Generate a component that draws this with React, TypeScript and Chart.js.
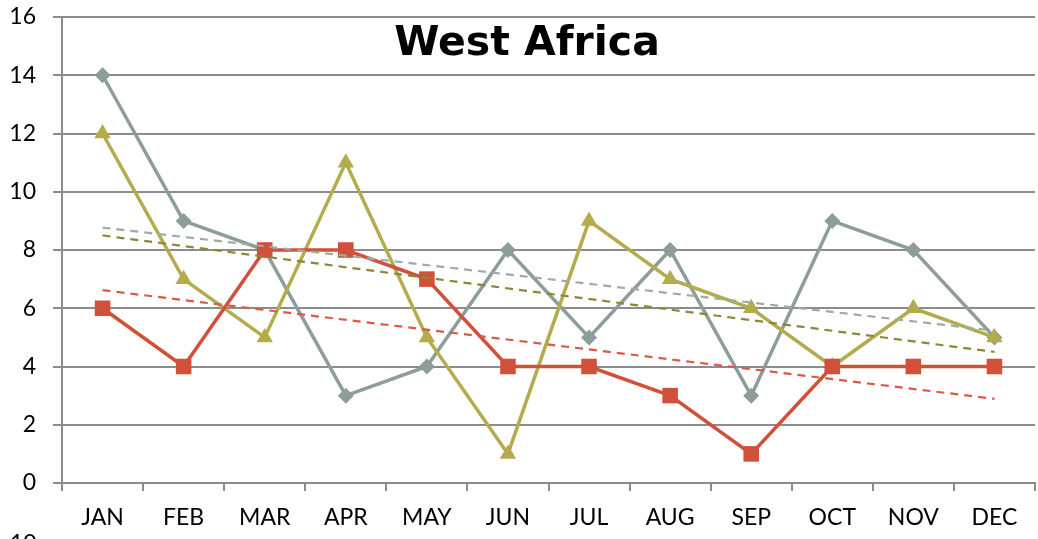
import React, { useEffect, useRef } from "react";
import { Chart, registerables } from "chart.js";

Chart.register(...registerables);

const months = ["JAN", "FEB", "MAR", "APR", "MAY", "JUN", "JUL", "AUG", "SEP", "OCT", "NOV", "DEC"];
const graySeries = [14, 9, 8, 3, 4, 8, 5, 8, 3, 9, 8, 5];
const oliveSeries = [12, 7, 5, 11, 5, 1, 9, 7, 6, 4, 6, 5];
const redSeries = [6, 4, 8, 8, 7, 4, 4, 3, 1, 4, 4, 4];
// trend line end points (JAN, DEC)
const grayTrend = [8.77, 5.23];
const oliveTrend = [8.5, 4.5];
const redTrend = [6.62, 2.89];
const yTicks = [0, 2, 4, 6, 8, 10, 12, 14, 16];
const title = "West Africa";

const FONT = "Lato, 'Noto Sans', sans-serif";
const TITLE_FONT = "'DejaVu Sans', sans-serif";
const PLOT_RIGHT = 1035;

function trendData(ends: number[]) {
  return months.map((_, i) => (i === 0 ? ends[0] : i === months.length - 1 ? ends[1] : null));
}

export default function App() {
  const ref = useRef<HTMLCanvasElement | null>(null);
  useEffect(() => {
    document.body.style.margin = "0";
    const titlePlugin = {
      id: "innerTitle",
      afterLayout(chart: any) {
        const ca = chart.chartArea;
        if (ca.right !== PLOT_RIGHT) {
          ca.right = PLOT_RIGHT;
          ca.width = ca.right - ca.left;
          const x = chart.scales.x;
          x.right = PLOT_RIGHT;
          x.width = x.right - x.left;
          x.configure();
        }
      },
      afterDatasetsDraw(chart: any) {
        const ctx = chart.ctx;
        ctx.save();
        ctx.font = `bold 41px ${TITLE_FONT}`;
        ctx.fillStyle = "#000";
        ctx.textAlign = "center";
        ctx.textBaseline = "alphabetic";
        ctx.fillText(title, 527, 55);
        ctx.restore();
      },
    };
    const chart = new Chart(ref.current!, {
      type: "line",
      data: {
        labels: months,
        datasets: [
          {
            data: trendData(redTrend),
            borderColor: "#DB5A45",
            borderWidth: 2.2,
            borderDash: [8, 6],
            pointRadius: 0,
            spanGaps: true,
            order: 0,
          },
          {
            data: trendData(oliveTrend),
            borderColor: "#8E8636",
            borderWidth: 2.2,
            borderDash: [8, 6],
            pointRadius: 0,
            spanGaps: true,
            order: 0,
          },
          {
            data: trendData(grayTrend),
            borderColor: "#9DABA7",
            borderWidth: 2.2,
            borderDash: [8, 6],
            pointRadius: 0,
            spanGaps: true,
            order: 0,
          },
          {
            data: redSeries,
            borderColor: "#D1503A",
            backgroundColor: "#D1503A",
            borderWidth: 3.5,
            pointStyle: "rect",
            pointRadius: 11,
            pointBorderWidth: 0,
            order: 1,
          },
          {
            data: oliveSeries,
            borderColor: "#B4AC4C",
            backgroundColor: "#B4AC4C",
            borderWidth: 3.5,
            pointStyle: "triangle",
            pointRadius: 9.5,
            pointBorderWidth: 0,
            order: 2,
          },
          {
            data: graySeries,
            borderColor: "#8D9D98",
            backgroundColor: "#8D9D98",
            borderWidth: 3.5,
            pointStyle: "rectRot",
            pointRadius: 8,
            pointBorderWidth: 0,
            order: 3,
          },
        ],
      },
      options: {
        animation: false,
        responsive: false,
        maintainAspectRatio: false,
        layout: { padding: { top: 17, right: 3, left: 0, bottom: 0 } },
        plugins: { legend: { display: false }, title: { display: false }, tooltip: { enabled: false } },
        scales: {
          x: {
            offset: true,
            grid: { offset: true, drawOnChartArea: false, drawTicks: true, tickLength: 8, color: "#8c8c8c", lineWidth: 2 },
            border: { display: true, color: "#8c8c8c", width: 2 },
            ticks: { color: "#000", font: { family: FONT, size: 23 }, padding: 13, maxRotation: 0 },
            afterFit: (s: any) => { s.height = 56; s.paddingLeft = 0; s.paddingRight = 0; },
          },
          y: {
            min: 0,
            max: 16,
            afterBuildTicks: (s: any) => { s.ticks = yTicks.map((v) => ({ value: v })); },
            grid: { color: "#8c8c8c", lineWidth: 2, tickLength: 9 },
            border: { display: true, color: "#8c8c8c", width: 2 },
            ticks: { color: "#000", font: { family: FONT, size: 23 }, padding: 17 },
            afterFit: (s: any) => { s.width = 62; s.paddingTop = 0; s.paddingBottom = 0; },
          },
        },
      },
      plugins: [titlePlugin],
    });
    return () => chart.destroy();
  }, []);
  return (
    <div style={{ position: "relative", width: 1038, height: 539, overflow: "hidden", background: "#fff" }}>
      <canvas ref={ref} width={1038} height={539} style={{ display: "block" }} />
      <div style={{ position: "absolute", left: 10, top: 528, font: `23px ${FONT}`, color: "#000" }}>10</div>
    </div>
  );
}
